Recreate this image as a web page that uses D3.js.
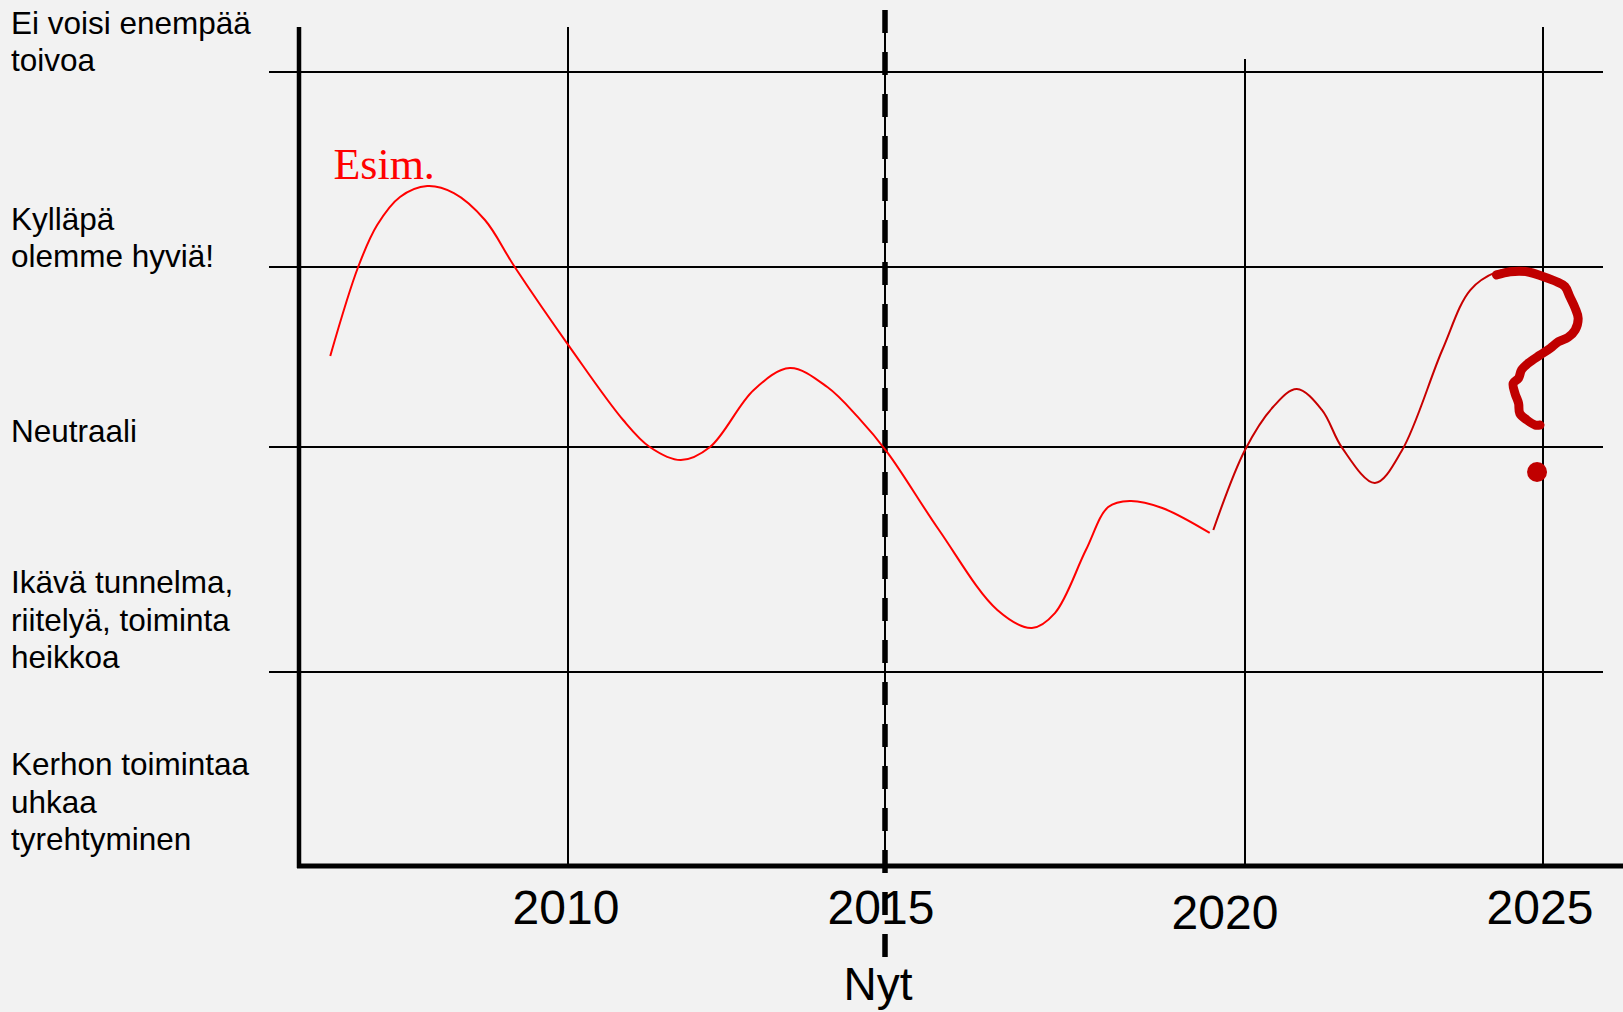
<!DOCTYPE html>
<html>
<head>
<meta charset="utf-8">
<script src="https://cdn.jsdelivr.net/npm/d3@7"></script>
<style>
  html, body { margin: 0; padding: 0; background: #f2f2f2; overflow: hidden; }
  svg { display: block; }
</style>
</head>
<body>
<script>
// ---------------- DATA ----------------
const years = [2010, 2015, 2020, 2025];
const yearLabels = ["2010", "2015", "2020", "2025"];
const levels = [1, 2, 3, 4, 5];
const levelLabels = [
  ["Kerhon toimintaa", "uhkaa", "tyrehtyminen"],
  ["Ikävä tunnelma,", "riitelyä, toiminta", "heikkoa"],
  ["Neutraali"],
  ["Kylläpä", "olemme hyviä!"],
  ["Ei voisi enempää", "toivoa"]
];
const nowYear = 2015;
const nowLabel = "Nyt";
const exampleLabel = "Esim.";
const exampleAt = [2006.3, 4.45];

// past curve (bright red)
const pastYears  = [2006.25, 2006.69, 2006.99, 2007.35, 2007.78, 2008.20, 2008.69, 2009.16, 2010.05, 2010.87, 2011.29, 2011.78, 2012.24, 2012.93, 2013.50, 2014.09, 2014.57, 2015.04, 2015.75, 2016.56, 2017.04, 2017.36, 2017.79, 2018.10, 2018.40, 2018.85, 2019.51];
const pastValues = [3.506, 4.0, 4.215, 4.359, 4.415, 4.379, 4.241, 4.0, 3.544, 3.15, 3.0, 2.942, 3.0, 3.317, 3.439, 3.333, 3.167, 2.973, 2.631, 2.276, 2.196, 2.262, 2.542, 2.733, 2.760, 2.729, 2.618];

// future curve (dark red)
const futureYears  = [2019.56, 2020.0, 2020.47, 2020.87, 2021.29, 2021.63, 2022.18, 2022.63, 2023.31, 2023.78, 2024.23, 2024.58];
const futureValues = [2.631, 2.987, 3.222, 3.322, 3.206, 2.996, 2.84, 2.983, 3.539, 3.872, 3.974, 3.995];

// hand-drawn question mark
const questionYears  = [2024.22, 2024.45, 2024.73, 2025.01, 2025.23, 2025.37, 2025.45, 2025.54, 2025.59, 2025.54, 2025.42, 2025.26, 2025.12, 2024.95, 2024.75, 2024.64, 2024.59, 2024.50, 2024.53, 2024.59, 2024.61, 2024.73, 2024.87, 2024.95];
const questionValues = [3.956, 3.974, 3.974, 3.946, 3.918, 3.891, 3.835, 3.771, 3.715, 3.65, 3.609, 3.585, 3.548, 3.511, 3.465, 3.428, 3.382, 3.354, 3.298, 3.243, 3.187, 3.15, 3.122, 3.122];
const questionDot = [2024.90, 2.889];

// ---------------- LAYOUT ----------------
const W = 1623, H = 1012;
const axisX = 299;           // y-axis position
const gridLeft = 269, gridRight = 1603;
const gridTop = 27;
const sans = "'Liberation Sans', Arial, sans-serif";

const svg = d3.select("body").append("svg").attr("width", W).attr("height", H);
svg.append("rect").attr("width", W).attr("height", H).attr("fill", "#f2f2f2");

const x = d3.scaleLinear().domain(years).range([568, 885, 1245, 1543]);
const y = d3.scaleLinear().domain(levels).range([866, 672, 447, 267, 72]);

// horizontal grid lines (levels above the baseline)
svg.append("g").selectAll("line").data(levels.slice(1)).join("line")
  .attr("x1", gridLeft).attr("x2", gridRight)
  .attr("y1", d => y(d)).attr("y2", d => y(d))
  .attr("stroke", "#000").attr("stroke-width", 2);

// vertical grid lines
const vTop = {2010: gridTop, 2015: gridTop, 2020: 59, 2025: gridTop};
svg.append("g").selectAll("line").data(years).join("line")
  .attr("x1", d => x(d)).attr("x2", d => x(d))
  .attr("y1", d => vTop[d]).attr("y2", y(1))
  .attr("stroke", "#000").attr("stroke-width", 2);

// axes
svg.append("line").attr("x1", axisX).attr("x2", axisX).attr("y1", gridTop).attr("y2", y(1) + 2)
  .attr("stroke", "#000").attr("stroke-width", 4.5);
svg.append("line").attr("x1", axisX - 2).attr("x2", W).attr("y1", y(1)).attr("y2", y(1))
  .attr("stroke", "#000").attr("stroke-width", 5);

// "now" dashed line
svg.append("line").attr("x1", x(nowYear)).attr("x2", x(nowYear)).attr("y1", 10).attr("y2", 958)
  .attr("stroke", "#000").attr("stroke-width", 5.5).attr("stroke-dasharray", "23,19");

// curves
const line = d3.line().x(d => x(d[0])).y(d => y(d[1])).curve(d3.curveCatmullRom.alpha(0.5));
svg.append("path").datum(d3.zip(pastYears, pastValues)).attr("d", line)
  .attr("fill", "none").attr("stroke", "#ff0000").attr("stroke-width", 2);
svg.append("path").datum(d3.zip(futureYears, futureValues)).attr("d", line)
  .attr("fill", "none").attr("stroke", "#c80000").attr("stroke-width", 2);

// question mark
svg.append("path").datum(d3.zip(questionYears, questionValues)).attr("d", line)
  .attr("fill", "none").attr("stroke", "#c00000").attr("stroke-width", 9)
  .attr("stroke-linecap", "round").attr("stroke-linejoin", "round");
svg.append("circle").attr("cx", x(questionDot[0])).attr("cy", y(questionDot[1])).attr("r", 10)
  .attr("fill", "#c00000");

// "Esim." label
svg.append("text").attr("x", x(exampleAt[0])).attr("y", y(exampleAt[1]))
  .attr("font-family", "'Liberation Serif', 'Times New Roman', serif").attr("font-size", 44)
  .attr("fill", "#ff0000").text(exampleLabel);

// level labels
const labelDy = [-16, -4, -5, 0, -1];
const lineH = 37.5;
levelLabels.forEach((lines, i) => {
  const last = y(levels[i]) + labelDy[i];
  const t = svg.append("text").attr("font-family", sans).attr("font-size", 31.5).attr("fill", "#000");
  lines.forEach((s, j) => {
    t.append("tspan").attr("x", 11).attr("y", last - (lines.length - 1 - j) * lineH).text(s);
  });
});

// year labels
const yearDx = [-2, -4, -20, -3];
const yearDy = [58, 58, 63, 58];
svg.append("g").selectAll("text").data(years).join("text")
  .attr("x", (d, i) => x(d) + yearDx[i]).attr("y", (d, i) => y(1) + yearDy[i])
  .attr("text-anchor", "middle").attr("font-family", sans).attr("font-size", 48)
  .attr("fill", "#000").text((d, i) => yearLabels[i]);

// now label
svg.append("text").attr("x", x(nowYear) - 7).attr("y", 1000)
  .attr("text-anchor", "middle").attr("font-family", sans).attr("font-size", 46)
  .attr("fill", "#000").text(nowLabel);
</script>
</body>
</html>
